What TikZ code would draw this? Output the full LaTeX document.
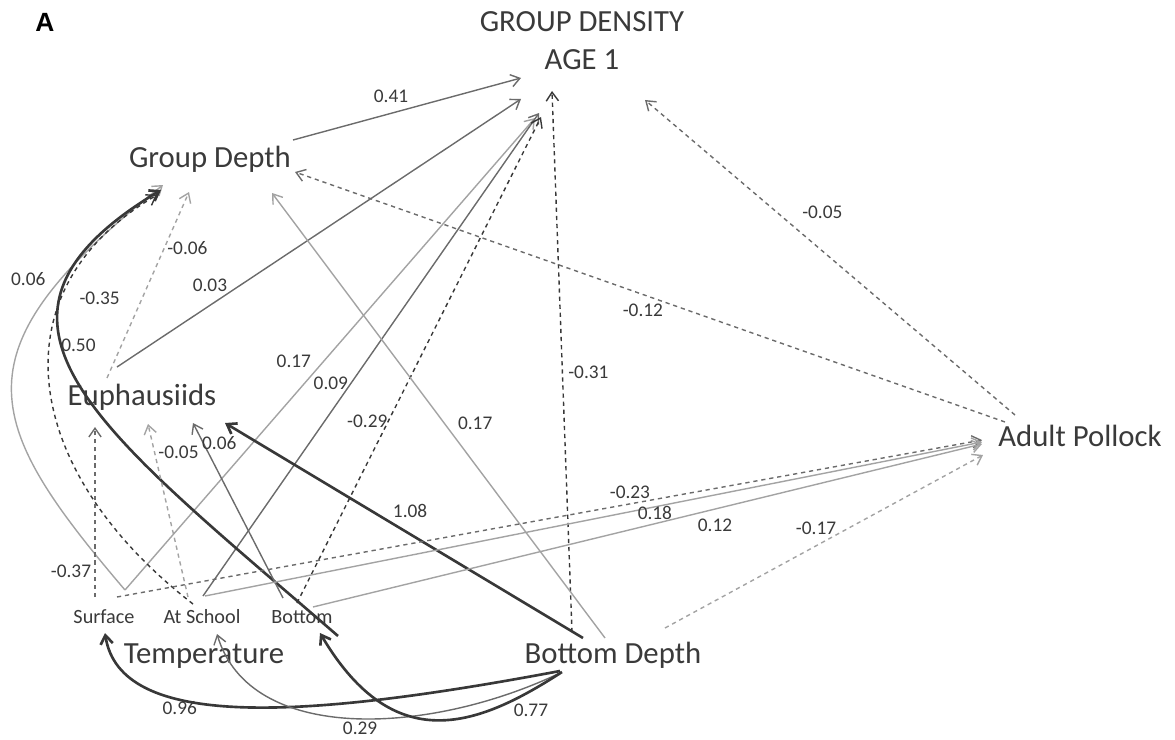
\documentclass[tikz,border=0pt]{standalone}
\usepackage{fontspec}
\setmainfont{Carlito}
\newfontfamily\panelfont{Liberation Sans}
\usetikzlibrary{arrows.meta}

\definecolor{ink}{HTML}{3A3A3A}

\begin{document}
\begin{tikzpicture}[
    x=0.2mm, y=-0.2mm,
    var/.style={font=\fontsize{17.5}{21.6}\selectfont, text=ink, inner sep=0pt, anchor=base},
    sub/.style={font=\fontsize{11.5}{13}\selectfont, text=ink, inner sep=0pt, anchor=base},
    coef/.style={font=\fontsize{11}{13}\selectfont, text=ink, inner sep=0pt},
    arrow/.style={-{Straight Barb[length=5pt,width=7pt]}, line width=0.8pt},
    dashed_arrow/.style={arrow, dash pattern=on 2.4pt off 2.2pt},
    heavy/.style={line width=1.5pt},
    dark/.style={draw=black!78},
    mid/.style={draw=black!58},
    light/.style={draw=black!36}
]
\useasboundingbox (0,0) rectangle (1175,740);

% Variables
\node[font={\panelfont\bfseries\fontsize{15}{18}\selectfont}, anchor=base, inner sep=0pt] (panel) at (45,32) {A};
\node[var, align=center, anchor=center] (age1) at (582,41) {GROUP DENSITY\\AGE 1};
\node[var] (gdep) at (210,167) {Group Depth};
\node[var] (euph) at (142,405) {Euphausiids};
\node[var] (pol) at (1080,446) {Adult Pollock};
\node[var] (temp) at (204,663) {Temperature};
\node[var] (bdep) at (613,663) {Bottom Depth};
\node[sub] (surf) at (104,623) {Surface};
\node[sub] (atsc) at (202,623) {At School};
\node[sub] (bott) at (302,623) {Bottom};

% Paths to group density
\draw[arrow, mid] ([shift={(83,-27)}]gdep.base) -- node[coef, pos=.43, shift={(0,-17)}] {0.41} ([shift={(-61,37)}]age1.center);
\draw[arrow, mid] ([shift={(-25,-38)}]euph.base) -- node[coef, pos=.23, shift={(0,-20)}] {0.03} ([shift={(-61,58)}]age1.center);
\draw[arrow, light] ([shift={(21,-33)}]surf.base) -- node[coef, pos=.485, shift={(-30,0)}] {0.17} ([shift={(-47,77)}]age1.center);
\draw[arrow, mid] ([shift={(1,-27)}]atsc.base) -- node[coef, pos=.44, shift={(-20,0)}] {0.09} ([shift={(-43,72)}]age1.center);
\draw[dashed_arrow, dark] ([shift={(-5,-20)}]bott.base) -- node[coef, pos=.374, shift={(-21,0)}] {-0.29} ([shift={(-41,76)}]age1.center);
\draw[dashed_arrow, dark] ([shift={(-41,-31)}]bdep.base) -- node[coef, pos=.48, shift={(26,0)}] {-0.31} ([shift={(-30,50)}]age1.center);
\draw[dashed_arrow, mid] ([shift={(-65,-31)}]pol.base) -- node[coef, pos=.645, shift={(46,0)}] {-0.05} ([shift={(63,59)}]age1.center);

% Paths to group depth
\draw[dashed_arrow, light] ([shift={(-35,-27)}]euph.base) -- node[coef, pos=.7, shift={(23,0)}] {-0.06} ([shift={(-21,25)}]gdep.base);
\draw[dashed_arrow, mid] ([shift={(-75,-24)}]pol.base) -- node[coef, pos=.51, shift={(0,16)}] {-0.12} ([shift={(85,5)}]gdep.base);
\draw[arrow, light] ([shift={(-8,-25)}]bdep.base) -- node[coef, pos=.483, shift={(31,0)}] {0.17} ([shift={(62,26)}]gdep.base);
\draw[arrow, light] ([shift={(21,-33)}]surf.base) .. controls (-20,420) and (-45,350) .. node[coef, pos=.8, shift={(-37,5)}] {0.06} ([shift={(-47,18)}]gdep.base);
\draw[dashed_arrow, dark] ([shift={(-9,-19)}]atsc.base) .. controls (20,470) and (-5,290) .. node[coef, pos=.7, shift={(39,-2)}] {-0.35} ([shift={(-53,28)}]gdep.base);
\draw[arrow, heavy, dark] ([shift={(36,13)}]bott.base) .. controls (100,430) and (-55,320) .. node[coef, pos=.6, shift={(17,1)}] {0.50} ([shift={(-49,23)}]gdep.base);

% Paths to euphausiids
\draw[arrow, heavy, dark] ([shift={(-30,-25)}]bdep.base) -- node[coef, pos=.483, shift={(0,-23)}] {1.08} ([shift={(83,18)}]euph.base);
\draw[dashed_arrow, mid] ([shift={(-9,-26)}]surf.base) -- node[coef, pos=.153, shift={(-24,0)}] {-0.37} ([shift={(-47,22)}]euph.base);
\draw[dashed_arrow, light] ([shift={(-14,-26)}]atsc.base) -- node[coef, pos=.838, shift={(24,0)}] {-0.05} ([shift={(6,19)}]euph.base);
\draw[arrow, mid] ([shift={(-19,-25)}]bott.base) -- node[coef, pos=.886, shift={(16,0)}] {0.06} ([shift={(51,18)}]euph.base);

% Paths to adult pollock
\draw[dashed_arrow, mid] ([shift={(13,-26)}]surf.base) -- node[coef, pos=.593, shift={(0,-12)}] {-0.23} ([shift={(-98,-6)}]pol.base);
\draw[arrow, light] ([shift={(3,-27)}]atsc.base) -- node[coef, pos=.579, shift={(0,6)}] {0.18} ([shift={(-98,-4)}]pol.base);
\draw[arrow, light] ([shift={(11,-16)}]bott.base) -- node[coef, pos=.601, shift={(0,16)}] {0.12} ([shift={(-98,-2)}]pol.base);
\draw[dashed_arrow, light] ([shift={(52,-35)}]bdep.base) -- node[coef, pos=.475, shift={(0,-18)}] {-0.17} ([shift={(-97,9)}]pol.base);

% Paths to temperature
\draw[arrow, heavy, dark] ([shift={(-53,8)}]bdep.base) .. controls (300,720) and (120,730) .. node[coef, pos=.65, shift={(2,10)}] {0.96} ([shift={(1,10)}]surf.base);
\draw[arrow, mid] ([shift={(-53,10)}]bdep.base) .. controls (430,735) and (250,745) .. node[coef, pos=.5, shift={(8,10)}] {0.29} ([shift={(15,11)}]atsc.base);
\draw[arrow, heavy, dark] ([shift={(-51,9)}]bdep.base) .. controls (480,725) and (395,760) .. node[coef, pos=.15, shift={(6,16)}] {0.77} ([shift={(18,10)}]bott.base);

\end{tikzpicture}
\end{document}
